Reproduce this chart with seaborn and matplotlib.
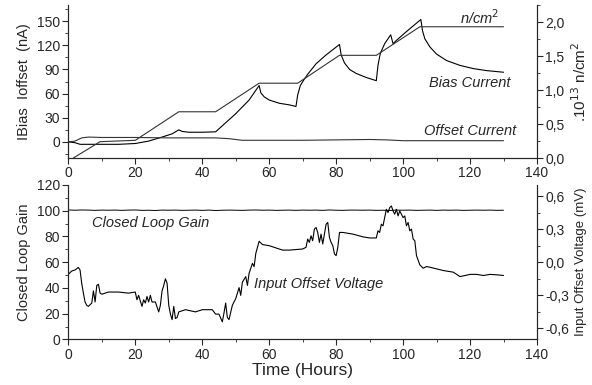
import matplotlib
matplotlib.use("Agg")
import matplotlib.pyplot as plt
import numpy as np
import pandas as pd
import seaborn as sns
from matplotlib.ticker import MultipleLocator, FuncFormatter

# ---- top panel data ----
fluence_t = [1.5, 9.5, 20, 33, 44, 57, 68.5, 81, 92, 105, 130]
fluence = [0.0, 0.24, 0.26, 0.68, 0.68, 1.10, 1.10, 1.51, 1.51, 1.93, 1.93]  # 1e13 n/cm2

bias_t = [0, 2, 3.5, 6, 10, 15, 20, 24, 28, 31, 33, 34, 36, 40, 44, 46, 50, 54, 57,
          57.5, 58.5, 60, 63, 66, 68, 68.5, 69.3, 70.5, 71.5, 74, 77, 81,
          81.5, 82.5, 84, 86, 89, 92, 92.5, 93.2, 94.5, 96.3, 97, 98, 101, 105.3,
          105.8, 106.5, 108, 110, 113, 117, 121, 125, 130]
bias = [0, -1, -3, -3, -3, -3, -2, 1, 6, 10, 15, 13, 12, 12, 12.5, 20, 35, 52, 70,
        61, 56, 52, 48, 46, 44, 58, 70, 78, 84, 97, 108, 121,
        108, 98, 90, 85, 80, 76, 95, 110, 122, 133, 122, 126, 137, 152,
        138, 128, 118, 109, 101, 95, 91, 88.5, 86.5]

offset_t = [0, 2, 4, 6, 10, 20, 30, 40, 44, 48, 52, 60, 70, 80, 90, 95, 100, 110, 120, 130]
offset_cur = [0, 1, 5, 6, 5.5, 5.5, 5, 5, 5, 4, 2, 2, 2, 2.5, 3, 2.5, 1.5, 1.5, 1.5, 1.5]

# ---- bottom panel data ----
gain_t = np.arange(0, 131, 2)
gain = [100.6, 100.4, 100.6, 100.5, 100.3, 100.5, 100.4, 100.5, 100.3, 100.5, 100.6,
        100.3, 100.4, 100.2, 100.5, 100.4, 100.5, 100.3, 100.4, 100.5, 100.3, 100.5,
        100.2, 100.4, 100.5, 100.4, 100.3, 100.5, 100.6, 100.4, 100.5, 100.3, 100.4,
        100.5, 100.3, 100.5, 100.4, 100.5, 100.3, 100.6, 100.4, 100.3, 100.5, 100.5,
        100.4, 100.5, 100.3, 100.4, 100.2, 100.5, 100.4, 100.5, 100.3, 100.4, 100.5,
        100.3, 100.5, 100.4, 100.5, 100.3, 100.4, 100.5, 100.4, 100.5, 100.3, 100.4]

vos_t = [0, 1, 2, 3, 3.5, 4, 4.5, 5, 5.5, 6, 7, 7.5, 8, 8.5, 9, 9.5, 10, 12, 15, 18,
         20, 20.5, 21, 22, 22.5, 23, 23.5, 24, 24.5, 25, 26, 27, 27.5, 28, 28.5, 29,
         29.5, 30, 30.5, 31, 31.5, 32, 32.5, 33, 35, 38, 40, 43, 44, 45, 46, 46.5, 47,
         47.5, 48, 49, 50, 51, 51.5, 52, 53, 53.5, 54, 55, 55.5, 56, 57, 58, 60, 62,
         64, 66, 68, 70, 71, 71.5, 72, 72.5, 73, 73.5, 74, 74.5, 75, 75.5, 76, 77,
         77.5, 78, 78.5, 79, 79.5, 80, 80.5, 81, 82, 85, 88, 90, 92, 92.5, 93, 93.5,
         94, 94.5, 95, 95.5, 96, 96.5, 97, 97.5, 98, 98.5, 99, 99.5, 100, 100.5, 101,
         101.5, 102, 102.5, 103, 103.5, 104, 105, 106, 107, 108, 110, 112, 115, 117,
         120, 122, 124, 126, 128, 130]
vos = [-0.11, -0.08, -0.07, -0.047, -0.07, -0.19, -0.28, -0.36, -0.39, -0.40, -0.37,
       -0.26, -0.36, -0.21, -0.20, -0.28, -0.29, -0.27, -0.27, -0.28,
       -0.27, -0.34, -0.30, -0.40, -0.34, -0.37, -0.31, -0.36, -0.30, -0.36, -0.36,
       -0.45, -0.39, -0.26, -0.21, -0.15,
       -0.19, -0.39, -0.47, -0.52, -0.40, -0.51, -0.50, -0.45, -0.43, -0.45, -0.43,
       -0.43, -0.47, -0.47, -0.54, -0.46, -0.37,
       -0.50, -0.52, -0.39, -0.33, -0.23, -0.30, -0.18, -0.13, -0.21, -0.10, -0.01,
       -0.04, 0.08, 0.19, 0.16, 0.15, 0.13,
       0.11, 0.11, 0.115, 0.12, 0.135, 0.21, 0.18, 0.24, 0.195, 0.30, 0.315, 0.27,
       0.18, 0.255, 0.165, 0.345,
       0.36, 0.225, 0.18, 0.15, 0.075, 0.06, 0.135, 0.27, 0.27, 0.255, 0.23, 0.22,
       0.22, 0.285, 0.27, 0.345,
       0.33, 0.405, 0.48, 0.45, 0.495, 0.51, 0.465, 0.435, 0.48, 0.42, 0.465, 0.435,
       0.405, 0.42, 0.33,
       0.36, 0.285, 0.30, 0.21, 0.195, 0.06, -0.024, -0.054, -0.039, -0.045, -0.06,
       -0.075, -0.09, -0.13,
       -0.11, -0.11, -0.12, -0.11, -0.114, -0.12]

sns.set_style("ticks")
plt.rcParams["font.family"] = ["Liberation Sans", "DejaVu Sans"]
plt.rcParams["font.size"] = 10
plt.rcParams["xtick.direction"] = "out"
plt.rcParams["ytick.direction"] = "out"
plt.rcParams["xtick.major.size"] = 4
plt.rcParams["ytick.major.size"] = 4
plt.rcParams["xtick.minor.size"] = 2.5
plt.rcParams["ytick.minor.size"] = 2.5
plt.rcParams["axes.linewidth"] = 0.8

comma = FuncFormatter(lambda v, _: f"{v:.1f}".replace(".", ",").replace("-0,0", "0,0"))

fig = plt.figure(figsize=(5.92, 3.85), dpi=100)
ax1 = fig.add_axes([0.1154, 0.5896, 0.7917, 0.3974])
ax1r = ax1.twinx()
ax2 = fig.add_axes([0.1154, 0.1182, 0.7917, 0.4013])
ax2r = ax2.twinx()

lw = 0.8
sns.lineplot(x=bias_t, y=bias, ax=ax1, color="black", lw=lw, sort=False, estimator=None)
sns.lineplot(x=offset_t, y=offset_cur, ax=ax1, color="#333333", lw=lw, sort=False, estimator=None)
sns.lineplot(x=fluence_t, y=fluence, ax=ax1r, color="#333333", lw=lw, sort=False, estimator=None)

sns.lineplot(x=gain_t, y=gain, ax=ax2, color="black", lw=0.7, sort=False, estimator=None)
sns.lineplot(x=vos_t, y=vos, ax=ax2r, color="black", lw=lw, sort=False, estimator=None)

for a in (ax1, ax1r, ax2, ax2r):
    a.set_xlim(0, 140)
    a.spines["top"].set_visible(False)
    a.spines["right"].set_visible(True)

ax1.set_ylim(-20, 170)
ax1.yaxis.set_major_locator(MultipleLocator(30))
ax1.yaxis.set_minor_locator(MultipleLocator(15))
ax1r.set_ylim(0, 2.25)
ax1r.yaxis.set_major_locator(MultipleLocator(0.5))
ax1r.yaxis.set_minor_locator(MultipleLocator(0.25))
ax1r.yaxis.set_major_formatter(comma)

ax2.set_ylim(0, 120)
ax2.yaxis.set_major_locator(MultipleLocator(20))
ax2.yaxis.set_minor_locator(MultipleLocator(10))
ax2r.set_ylim(-0.7, 0.7)
ax2r.yaxis.set_major_locator(MultipleLocator(0.3))
ax2r.yaxis.set_minor_locator(MultipleLocator(0.15))
ax2r.yaxis.set_major_formatter(comma)

for a in (ax1, ax2):
    a.xaxis.set_major_locator(MultipleLocator(20))
    a.xaxis.set_minor_locator(MultipleLocator(10))
for a in (ax1, ax1r, ax2, ax2r):
    a.tick_params(labelsize=10, pad=2)

ax1.set_ylabel("IBias  Ioffset  (nA)", fontsize=10.5, labelpad=4)
ax1r.set_ylabel(r".10$^{13}$ n/cm$^2$", fontsize=11, labelpad=4)
ax2.set_ylabel("Closed Loop Gain", fontsize=10.5, labelpad=4)
ax2r.set_ylabel("Input Offset Voltage (mV)", fontsize=9.5, labelpad=4)
ax2.set_xlabel("Time (Hours)", fontsize=12.5, labelpad=1)
ax1.set_xlabel("")

ann = dict(style="italic", fontsize=10.5, ha="center", va="center")
ax1.text(123, 154, r"n/cm$^2$", **ann)
ax1.text(120, 73, "Bias Current", **ann)
ax1.text(120, 14, "Offset Current", **ann)
ax2.text(24.6, 90.7, "Closed Loop Gain", **ann)
ax2.text(74.8, 43.1, "Input Offset Voltage", **ann)

fig.savefig("out.png", dpi=100)
plt.close(fig)
